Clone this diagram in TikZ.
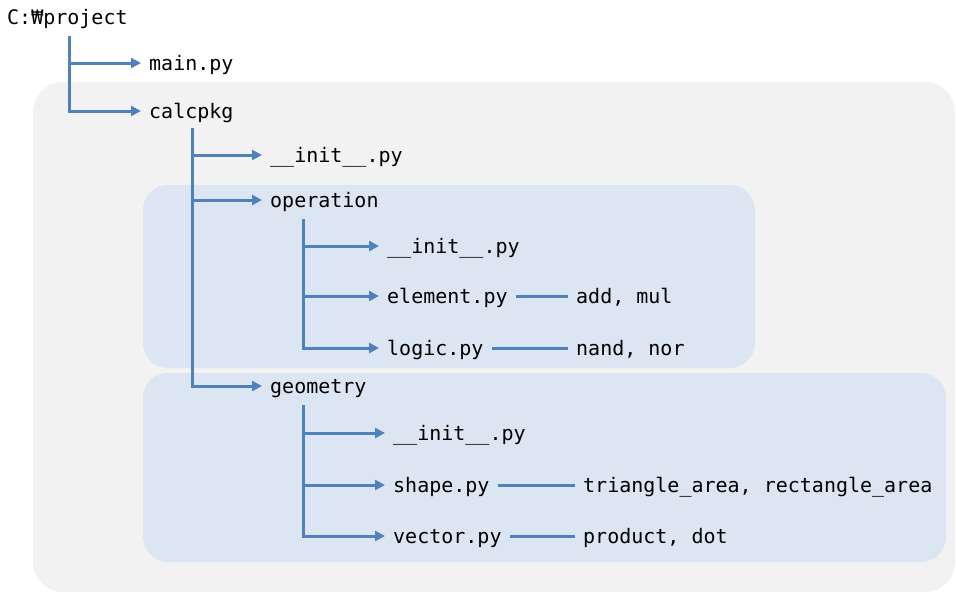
\documentclass[tikz,border=0pt]{standalone}
\usepackage{fontspec}
\setmonofont{DejaVu Sans Mono}
\usetikzlibrary{arrows.meta}
\definecolor{treeblue}{RGB}{79,129,189}
\definecolor{outerbg}{RGB}{242,242,242}
\definecolor{innerbg}{RGB}{220,230,242}
\tikzset{
  item/.style={anchor=west,inner xsep=8pt,inner ysep=0pt,text height=15pt,text depth=1pt,font=\ttfamily\fontsize{20}{24}\selectfont},
  conn/.style={draw=treeblue,line width=3pt},
  arr/.style={conn,-{Triangle[length=10pt,width=10pt]}},
}
\begin{document}
\begin{tikzpicture}[x=1pt,y=-1pt]
\useasboundingbox (0,0) rectangle (956,603);
% backgrounds
\fill[outerbg,rounded corners=30pt] (33,82) rectangle (955,592);
\fill[innerbg,rounded corners=25pt] (143,185) rectangle (755,368);
\fill[innerbg,rounded corners=25pt] (143,373) rectangle (946,562);
% nodes
\node[item,inner xsep=0pt] (root) at (7,17) {C:₩project};
\node[item] (main) at (141,63) {main.py};
\node[item] (calc) at (141,111) {calcpkg};
\node[item] (cinit) at (262,155) {\_\_init\_\_.py};
\node[item] (oper) at (262,200) {operation};
\node[item] (geom) at (262,386) {geometry};
\node[item] (oinit) at (379,246) {\_\_init\_\_.py};
\node[item] (elem) at (379,296) {element.py};
\node[item] (logic) at (379,348) {logic.py};
\node[item] (addmul) at (568,296) {add, mul};
\node[item] (nand) at (568,348) {nand, nor};
\node[item] (ginit) at (385,433) {\_\_init\_\_.py};
\node[item] (shape) at (385,485) {shape.py};
\node[item] (vect) at (385,536) {vector.py};
\node[item] (tri) at (575,485) {triangle\_area, rectangle\_area};
\node[item] (prod) at (575,536) {product, dot};
% trunks
\coordinate (t0) at (69,36);
\coordinate (t1) at (192,128);
\coordinate (t2) at (303,219);
\coordinate (t3) at (303,405);
% root branches
\draw[arr] (t0) |- (calc.west);
\draw[arr] (t0 |- main.west) -- (main.west);
% calcpkg branches
\draw[arr] (t1) |- (geom.west);
\draw[arr] (t1 |- cinit.west) -- (cinit.west);
\draw[arr] (t1 |- oper.west) -- (oper.west);
% operation branches
\draw[arr] (t2) |- (logic.west);
\draw[arr] (t2 |- oinit.west) -- (oinit.west);
\draw[arr] (t2 |- elem.west) -- (elem.west);
% geometry branches
\draw[arr] (t3) |- (vect.west);
\draw[arr] (t3 |- ginit.west) -- (ginit.west);
\draw[arr] (t3 |- shape.west) -- (shape.west);
% function links
\draw[conn] (elem.east) -- (addmul.west);
\draw[conn] (logic.east) -- (nand.west);
\draw[conn] (shape.east) -- (tri.west);
\draw[conn] (vect.east) -- (prod.west);
\end{tikzpicture}
\end{document}
